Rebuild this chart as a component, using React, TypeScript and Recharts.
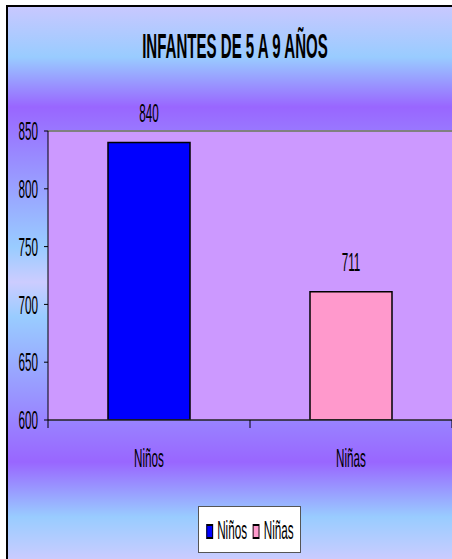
import { Bar, BarChart, CartesianGrid, Cell, LabelList, ReferenceLine, XAxis, YAxis } from "recharts";

const categories = ["Niños", "Niñas"];
const values = [840, 711];
const colors = ["#0000FF", "#FF99CC"];
const yTicks = [600, 650, 700, 750, 800, 850];

// the original picture is Arial stretched tall and narrow
const FONT = "'Liberation Sans', Arial, sans-serif";
const FS = 26;
const SQUEEZE = 0.45;
const X_TICK_MARGIN = 47;

const data = categories.map((name, i) => ({ name, value: values[i] }));

const background =
  "linear-gradient(to bottom, #C8C8FF 0px, #99CCFF 50px, #9966FF 100px, #99CCFF 240px, #CCCCFF 275px, #99CCFF 310px, #9966FF 455px, #99CCFF 510px, #CCCCFF 554px)";

const NarrowText = ({ x, y, anchor, dy, children }: any) => (
  <g transform={`translate(${x},${y})`}>
    <text
      transform={`scale(${SQUEEZE},1)`}
      textAnchor={anchor}
      dy={dy}
      fontFamily={FONT}
      fontSize={FS}
      fill="#000"
      stroke="none"
    >
      {children}
    </text>
  </g>
);

const YTick = ({ x, y, payload }: any) => (
  <NarrowText x={x} y={y} anchor="end" dy="0.355em">
    {payload.value}
  </NarrowText>
);

// category label, plus the tick marks Excel puts between the categories
const XTick = ({ x, y, payload, index }: any) => {
  const half = payload.offset ?? 0;
  const axisY = y - X_TICK_MARGIN;
  return (
    <g>
      {index === 0 && <line x1={x - half} x2={x - half} y1={axisY} y2={axisY + 8} stroke="#000" />}
      <line x1={x + half} x2={x + half} y1={axisY} y2={axisY + 8} stroke="#000" />
      <NarrowText x={x} y={y} anchor="middle" dy={0}>
        {payload.value}
      </NarrowText>
    </g>
  );
};

const ValueLabel = ({ x, y, width, value }: any) => (
  <NarrowText x={x + width / 2} y={y - 21} anchor="middle" dy={0}>
    {value}
  </NarrowText>
);

export default function App() {
  return (
    <div style={{ position: "fixed", left: 0, top: 0, width: 452, height: 559, overflow: "hidden", background: "#fff" }}>
      <div
        style={{
          position: "absolute",
          left: 6,
          top: 5,
          right: 0,
          bottom: 0,
          borderLeft: "2px solid #000",
          borderTop: "2px solid #000",
          background,
        }}
      />
      <div
        style={{
          position: "absolute",
          left: 0,
          top: 26,
          width: 470,
          textAlign: "center",
          fontFamily: FONT,
          fontWeight: "bold",
          fontSize: 35,
          lineHeight: "40px",
          color: "#000",
          whiteSpace: "nowrap",
          transform: "scaleX(0.43)",
        }}
      >
        INFANTES DE 5 A 9 AÑOS
      </div>
      <div style={{ position: "absolute", left: 0, top: 0 }}>
        <BarChart width={452} height={559} data={data} margin={{ top: 131, right: 0, bottom: 89, left: 0 }}>
          <CartesianGrid fill="#CC99FF" stroke="none" />
          <XAxis
            dataKey="name"
            tickLine={false}
            tickSize={0}
            tickMargin={X_TICK_MARGIN}
            axisLine={{ stroke: "#222", strokeWidth: 1.5 }}
            tick={XTick}
            height={50}
          />
          <YAxis
            domain={[600, 850]}
            ticks={yTicks}
            width={48}
            tickSize={4}
            tickMargin={6}
            axisLine={{ stroke: "#000" }}
            tickLine={{ stroke: "#000", strokeWidth: 1 }}
            tick={YTick}
            allowDataOverflow
          />
          <ReferenceLine y={850} stroke="#808080" strokeWidth={2} />
          <Bar dataKey="value" barSize={82} stroke="#000" strokeWidth={1.5} isAnimationActive={false}>
            {data.map((d, i) => (
              <Cell key={d.name} fill={colors[i]} />
            ))}
            <LabelList dataKey="value" content={ValueLabel} />
          </Bar>
        </BarChart>
      </div>
      <div
        style={{
          position: "absolute",
          left: 198,
          top: 506,
          width: 103,
          height: 47,
          boxSizing: "border-box",
          border: "1px solid #555",
          background: "#fff",
          display: "flex",
          alignItems: "center",
          justifyContent: "center",
        }}
      >
        <div
          style={{
            display: "flex",
            alignItems: "center",
            gap: 13,
            fontFamily: FONT,
            fontSize: FS,
            lineHeight: "30px",
            color: "#000",
            transform: `scaleX(${SQUEEZE})`,
            whiteSpace: "nowrap",
          }}
        >
          {categories.map((name, i) => (
            <span key={name} style={{ display: "flex", alignItems: "center", gap: 9 }}>
              <span
                style={{
                  display: "inline-block",
                  width: 15,
                  height: 15,
                  marginTop: 3,
                  boxSizing: "border-box",
                  border: "2px solid #000",
                  background: colors[i],
                }}
              />
              {name}
            </span>
          ))}
        </div>
      </div>
    </div>
  );
}
